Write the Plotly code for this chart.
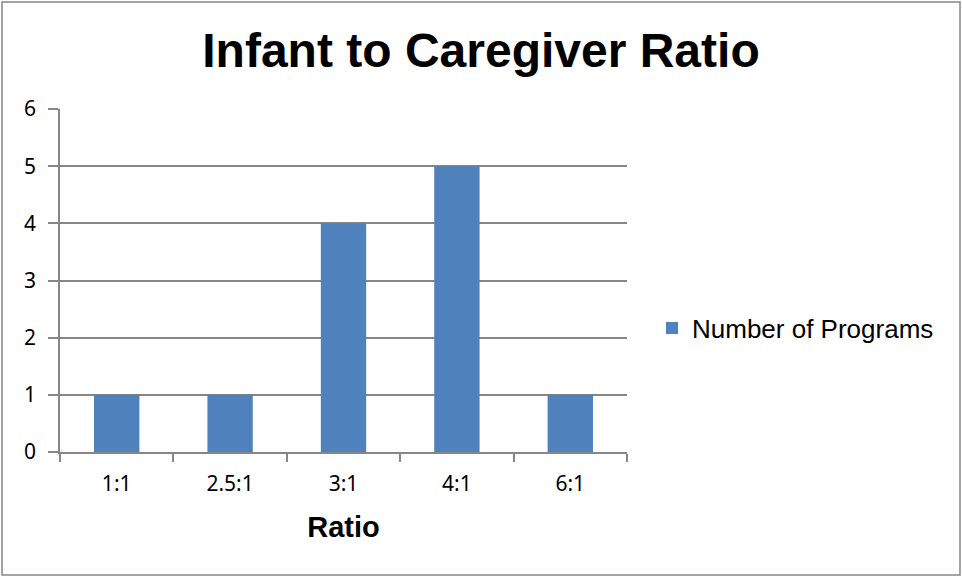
import plotly.graph_objects as go

categories = ["1:1", "2.5:1", "3:1", "4:1", "6:1"]
programs = [1, 1, 4, 5, 1]
series_name = "Number of Programs"
y_ticks = [0, 1, 2, 3, 4, 5, 6]

W, H = 962, 577
ml, mr, mt, mb = 60, 335, 109, 125
pw, ph = W - ml - mr, H - mt - mb

fig = go.Figure()
fig.add_trace(go.Bar(x=categories, y=programs, name=series_name,
                     marker=dict(color="#4F81BD", line=dict(width=0)),
                     showlegend=True))

grid = "#868686"
fig.update_layout(
    width=W, height=H,
    margin=dict(l=ml, r=mr, t=mt, b=mb),
    paper_bgcolor="white", plot_bgcolor="white",
    bargap=0.6,
    title=dict(text="<b>Infant to Caregiver Ratio</b>", x=0.5, xref="container", xanchor="center",
               y=1 - 50 / H, yref="container", yanchor="middle",
               font=dict(family="Liberation Sans, Arial", size=48, color="black")),
    showlegend=True,
    legend=dict(x=(652 - ml) / pw, y=1 - (328 - mt) / ph, xanchor="left", yanchor="middle",
                font=dict(family="Liberation Sans, Arial", size=26, color="black"),
                itemwidth=30, bgcolor="rgba(0,0,0,0)"),
    xaxis=dict(showline=True, linecolor=grid, linewidth=1.5, ticks="outside",
               tickson="boundaries", ticklen=8, tickcolor=grid, tickwidth=1.5,
               tickfont=dict(family="Noto Sans, Open Sans", size=21, color="black"),
               ticklabelstandoff=12,
               title=dict(text="<b>Ratio</b>", standoff=21,
                          font=dict(family="Liberation Sans, Arial", size=29, color="black")),
               showgrid=False),
    yaxis=dict(range=[0, 6], tickvals=y_ticks, showline=True, linecolor=grid, linewidth=1.5,
               ticks="outside", ticklen=10, tickcolor=grid, tickwidth=1.5,
               showgrid=True, gridcolor=grid, gridwidth=1.5, zeroline=False,
               ticklabelstandoff=8,
               tickfont=dict(family="Noto Sans, Open Sans", size=21, color="black")),
)

fig.add_shape(type="rect", xref="paper", yref="paper",
              x0=(2 - ml) / pw, x1=(960 - ml) / pw,
              y0=1 - (575 - mt) / ph, y1=1 - (2 - mt) / ph,
              line=dict(color="#868686", width=1.5), fillcolor="rgba(0,0,0,0)", layer="below")

fig.write_html("out.html", config={"displayModeBar": False},
               post_script="document.body.style.margin='0px';document.body.style.overflow='hidden';")
